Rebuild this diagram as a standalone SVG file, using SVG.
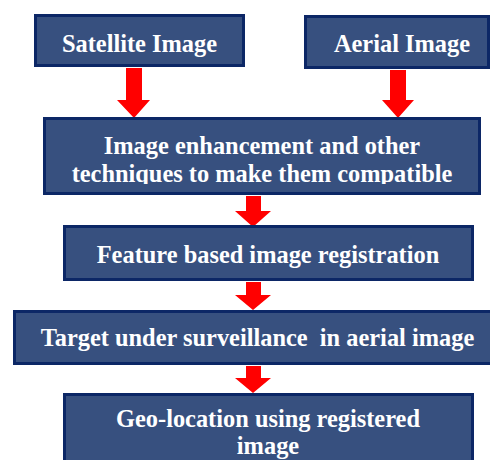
<svg xmlns="http://www.w3.org/2000/svg" width="490" height="460" viewBox="0 0 490 460">
<style>
.box{fill:#37507f;stroke:#0c2766;stroke-width:3}
.t{font-family:"Liberation Serif","Times New Roman",serif;font-weight:bold;font-size:24.4px;fill:#ffffff;text-anchor:middle}
.arr{fill:#ff0000}
</style>
<defs>
<clipPath id="c3"><rect x="44" y="118" width="436" height="66"/></clipPath>
</defs>
<rect width="490" height="460" fill="#ffffff"/>
<g id="connectors">
<polygon class="arr" points="126,68 142,68 142,100 150,100 134,118 117,100 126,100"/>
<polygon class="arr" points="390,70 406,70 406,100 414,100 398,118 382,100 390,100"/>
<polygon class="arr" points="246,196 261,196 261,211 271,211 253,227 235,211 246,211"/>
<polygon class="arr" points="246,282 261,282 261,295 271,295 253,310 235,295 246,295"/>
<polygon class="arr" points="246,366 261,366 261,378 271,378 253,393 235,378 246,378"/>
</g>
<g id="satellite">
<rect class="box" x="35.5" y="15.5" width="208" height="50"/>
<text class="t" x="139.5" y="52">Satellite Image</text>
</g>
<g id="aerial">
<rect class="box" x="305.5" y="16.5" width="183" height="51"/>
<text class="t" x="402" y="52">Aerial Image</text>
</g>
<g id="enhancement">
<rect class="box" x="44.5" y="118.5" width="435" height="75"/>
<g clip-path="url(#c3)">
<text class="t" x="262" y="154">Image enhancement and other</text>
<text class="t" x="262" y="182">techniques to make them compatible</text>
</g>
</g>
<g id="registration">
<rect class="box" x="64.5" y="226.5" width="408" height="53"/>
<text class="t" x="268" y="263">Feature based image registration</text>
</g>
<g id="target">
<rect class="box" x="14.5" y="311.5" width="490" height="52"/>
<text class="t" x="257.5" y="346" xml:space="preserve">Target under surveillance  in aerial image</text>
</g>
<g id="geolocation">
<rect class="box" x="64.5" y="394.5" width="408" height="80"/>
<text class="t" x="268" y="427">Geo-location using registered</text>
<text class="t" x="268" y="454">image</text>
</g>
</svg>
